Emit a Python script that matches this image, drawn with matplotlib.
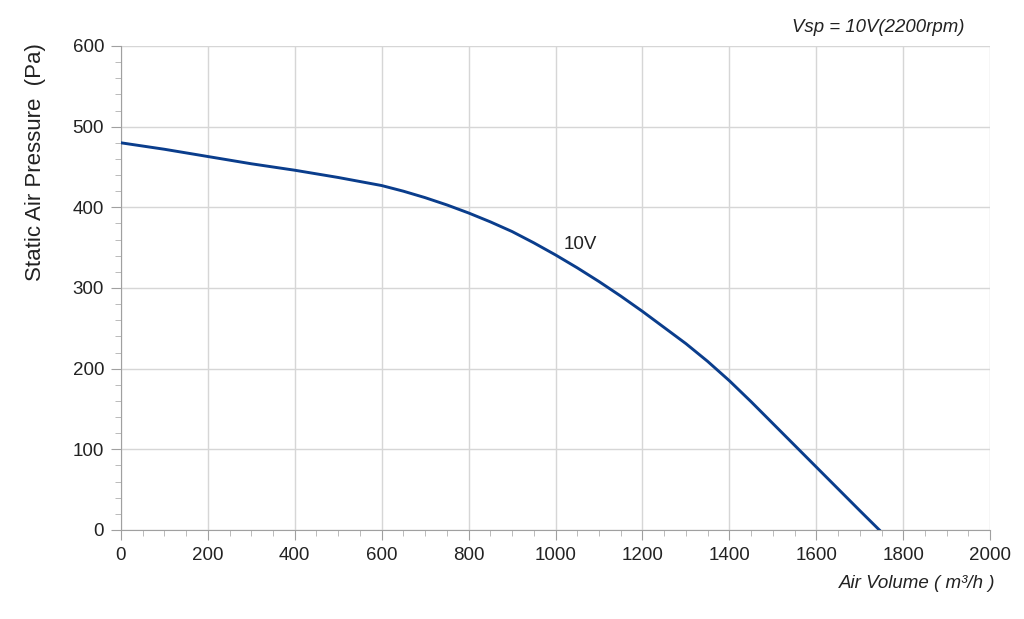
import matplotlib.pyplot as plt
from matplotlib.ticker import MultipleLocator

plt.rcParams['font.family'] = ['Liberation Sans', 'DejaVu Sans']

# fan curve
air_volume = [0, 100, 200, 300, 400, 500, 600, 650, 700, 750, 800, 850, 900,
              950, 1000, 1050, 1100, 1150, 1200, 1250, 1300, 1350, 1400,
              1450, 1500, 1600, 1700, 1745]
pressure = [480, 472, 463, 454, 446, 437, 427, 420, 412, 403, 393, 382, 370,
            356, 341, 325, 308, 290, 271, 251, 231, 209, 185,
            159, 132, 78, 24, 0]
curve_label = "10V"

fig = plt.figure(figsize=(10.24, 6.19), dpi=100)
ax = fig.add_axes([0.118, 0.1438, 0.849, 0.7819])

ax.plot(air_volume, pressure, color="#0a3d8c", lw=2.1, zorder=3)
ax.text(1018, 354, curve_label, fontsize=13.5, va="center", ha="left", color="#222222")

ax.set_xlim(0, 2000)
ax.set_ylim(0, 600)
ax.xaxis.set_major_locator(MultipleLocator(200))
ax.xaxis.set_minor_locator(MultipleLocator(50))
ax.yaxis.set_major_locator(MultipleLocator(100))
ax.yaxis.set_minor_locator(MultipleLocator(20))

ax.grid(True, which="major", color="#d6d6d6", lw=1.0)
ax.set_axisbelow(True)
for s in ["top", "right"]:
    ax.spines[s].set_visible(False)
for s in ["left", "bottom"]:
    ax.spines[s].set_color("#a0a0a0")
ax.tick_params(which="major", length=7, color="#a0a0a0", labelsize=13.5,
               labelcolor="#222222", pad=5)
ax.tick_params(which="minor", length=4.5, color="#b0b0b0")

fig.text(35.5/1024, 1 - 162/619, "Static Air Pressure  (Pa)", rotation=90,
         ha="center", va="center", fontsize=16, color="#222222")
fig.text(995/1024, 1 - 583/619, "Air Volume ( m³/h )", style="italic",
         ha="right", va="center", fontsize=13.5, color="#222222")
fig.text(965/1024, 1 - 27/619, "Vsp = 10V(2200rpm)", style="italic",
         ha="right", va="center", fontsize=13.4, color="#222222")

plt.savefig("out.png", dpi=100)
